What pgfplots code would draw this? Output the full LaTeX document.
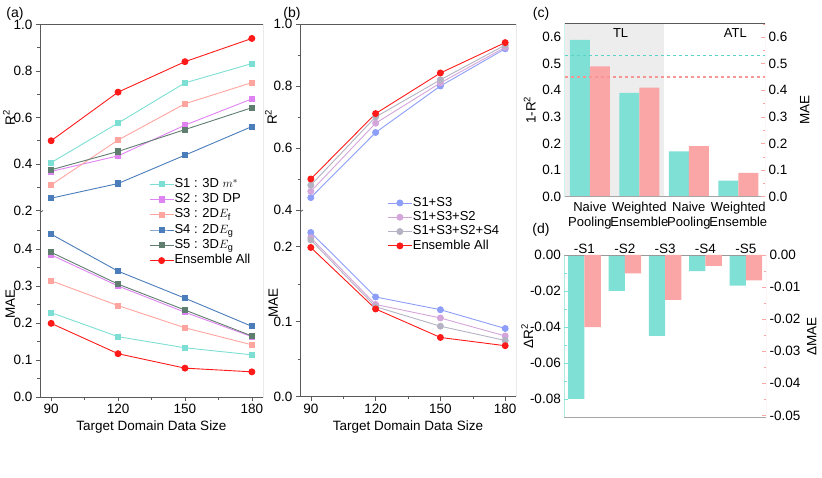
\documentclass[border=0pt]{standalone}
\usepackage{pgfplots}
\pgfplotsset{compat=1.18}
\usepackage{fontspec}
\setmainfont{Liberation Sans}
\definecolor{axgray}{HTML}{5A5A5A}
\definecolor{sone}{HTML}{7DDFD3}
\definecolor{stwo}{HTML}{E083F2}
\definecolor{sthree}{HTML}{FFA5A0}
\definecolor{sfour}{HTML}{4A7DBA}
\definecolor{sfive}{HTML}{5F7E70}
\definecolor{ens}{HTML}{FF1A1A}
\definecolor{bone}{HTML}{8C9EF7}
\definecolor{btwo}{HTML}{D4A5DA}
\definecolor{bthree}{HTML}{B3B3C3}
\definecolor{barc}{HTML}{7FE0D6}
\definecolor{barp}{HTML}{FBA6A6}
\definecolor{dashc}{HTML}{5CD3CA}
\definecolor{dashp}{HTML}{F79494}
\definecolor{shade}{HTML}{EDEDED}
\pgfplotsset{
  base/.style={scale only axis, anchor=south west,
    /pgf/number format/assume math mode=true,
    tick label style={font=\fontsize{13.5}{15}\selectfont},
    label style={font=\fontsize{13.5}{15}\selectfont},
    tick align=outside, tick style={axgray, line width=0.6pt},
    major tick length=4pt, minor tick length=2.5pt,
    axis line style={draw=none},
    yticklabel style={/pgf/number format/fixed, /pgf/number format/fixed zerofill, /pgf/number format/precision=1},
  },
  leg/.style={legend cell align=left,
    legend style={draw=none, fill=none, font=\fontsize{13}{15}\selectfont,
      nodes={inner sep=0.5pt, text height=9.5pt, text depth=3pt}},
    legend image code/.code={\draw[mark repeat=2,mark phase=2,##1] plot coordinates {(0pt,0pt) (12pt,0pt) (24pt,0pt)};}},
  sq/.style={line width=0.9pt, mark=square*, mark size=2.6pt, mark options={solid}},
  ci/.style={line width=0.9pt, mark=*, mark size=3pt, mark options={solid}},
}
\begin{document}
\begin{tikzpicture}
\path[use as bounding box] (0pt,0pt) rectangle (822pt,477pt);
% ---------------- (a) upper
\begin{axis}[base, leg, at={(40pt,266.5pt)}, width=223pt, height=186pt,
  xmin=85, xmax=185, ymin=0.2, ymax=1.0, xtick=\empty,
  ytick={0.2,0.4,0.6,0.8,1.0}, minor ytick={0.3,0.5,0.7,0.9}, ytick pos=left,
  ylabel={R\textsuperscript{2}}, ylabel shift=-8pt,
  legend style={at={(0.475,0.19)}, anchor=north west, row sep=1.8pt}]
\addplot[sq, sone] coordinates {(90,0.406) (120,0.576) (150,0.749) (180,0.832)};
\addlegendentry{S1 : 3D $m^{*}$}
\addplot[sq, stwo] coordinates {(90,0.368) (120,0.435) (150,0.567) (180,0.680)};
\addlegendentry{S2 : 3D DP}
\addplot[sq, sthree] coordinates {(90,0.310) (120,0.503) (150,0.659) (180,0.750)};
\addlegendentry{S3 : 2D$E_\mathrm{f}$}
\addplot[sq, sfour] coordinates {(90,0.253) (120,0.316) (150,0.438) (180,0.561)};
\addlegendentry{S4 : 2D$E_\mathrm{g}$}
\addplot[sq, sfive] coordinates {(90,0.375) (120,0.454) (150,0.548) (180,0.642)};
\addlegendentry{S5 : 3D$E_\mathrm{g}$}
\addplot[ci, ens] coordinates {(90,0.500) (120,0.709) (150,0.840) (180,0.940)};
\addlegendentry{Ensemble All}
\draw[axgray, line width=0.8pt] (rel axis cs:0,0) -- (rel axis cs:0,1) -- (rel axis cs:1,1) -- (rel axis cs:1,0);
\end{axis}
% ---------------- (a) lower
\begin{axis}[base, at={(40pt,80pt)}, width=223pt, height=186.5pt,
  xmin=85, xmax=185, ymin=0, ymax=0.504,
  xtick={90,120,150,180}, minor xtick={105,135,165}, xtick pos=bottom,
  ytick={0,0.1,0.2,0.3,0.4}, minor ytick={0.05,0.15,0.25,0.35,0.45}, ytick pos=left,
  ylabel={MAE}, ylabel shift=-8pt, xlabel={Target Domain Data Size}]
\addplot[sq, sone] coordinates {(90,0.228) (120,0.163) (150,0.133) (180,0.114)};
\addplot[sq, stwo] coordinates {(90,0.384) (120,0.300) (150,0.229) (180,0.163)};
\addplot[sq, sthree] coordinates {(90,0.314) (120,0.247) (150,0.187) (180,0.141)};
\addplot[sq, sfour] coordinates {(90,0.440) (120,0.340) (150,0.267) (180,0.191)};
\addplot[sq, sfive] coordinates {(90,0.391) (120,0.305) (150,0.235) (180,0.165)};
\addplot[ci, ens] coordinates {(90,0.199) (120,0.117) (150,0.078) (180,0.068)};
\draw[axgray, line width=0.8pt] (rel axis cs:0,1) -- (rel axis cs:0,0) -- (rel axis cs:1,0) -- (rel axis cs:1,1);
\draw[axgray, line width=0.7pt] ([xshift=-3pt,yshift=-4pt]rel axis cs:0,1) -- ++(6pt,4pt);
\draw[axgray, line width=0.7pt] ([xshift=-3pt,yshift=-1pt]rel axis cs:0,1) -- ++(6pt,4pt);
\end{axis}
% ---------------- (b) upper
\begin{axis}[base, leg, at={(300pt,267pt)}, width=216pt, height=186pt,
  xmin=85, xmax=185, ymin=0.4, ymax=1.0, xtick=\empty,
  ytick={0.4,0.6,0.8,1.0}, minor ytick={0.5,0.7,0.9}, ytick pos=left,
  ylabel={R\textsuperscript{2}}, ylabel shift=-10pt,
  legend style={at={(0.39,0.086)}, anchor=north west, row sep=0.8pt}]
\addplot[ci, bone] coordinates {(90,0.440) (120,0.650) (150,0.800) (180,0.920)};
\addlegendentry{S1+S3}
\addplot[ci, btwo] coordinates {(90,0.460) (120,0.680) (150,0.810) (180,0.925)};
\addlegendentry{S1+S3+S2}
\addplot[ci, bthree] coordinates {(90,0.480) (120,0.700) (150,0.820) (180,0.932)};
\addlegendentry{S1+S3+S2+S4}
\addplot[ci, ens] coordinates {(90,0.500) (120,0.711) (150,0.842) (180,0.940)};
\addlegendentry{Ensemble All}
\draw[axgray, line width=0.8pt] (rel axis cs:0,0) -- (rel axis cs:0,1) -- (rel axis cs:1,1) -- (rel axis cs:1,0);
\end{axis}
% ---------------- (b) lower
\begin{axis}[base, at={(300pt,80.3pt)}, width=216pt, height=186.7pt,
  xmin=85, xmax=185, ymin=0, ymax=0.249,
  xtick={90,120,150,180}, minor xtick={105,135,165}, xtick pos=bottom,
  ytick={0,0.1,0.2}, minor ytick={0.05,0.15}, ytick pos=left,
  ylabel={MAE}, ylabel shift=-11pt, xlabel={Target Domain Data Size}]
\addplot[ci, bone] coordinates {(90,0.219) (120,0.133) (150,0.116) (180,0.091)};
\addplot[ci, btwo] coordinates {(90,0.212) (120,0.123) (150,0.105) (180,0.081)};
\addplot[ci, bthree] coordinates {(90,0.209) (120,0.120) (150,0.094) (180,0.075)};
\addplot[ci, ens] coordinates {(90,0.199) (120,0.117) (150,0.079) (180,0.068)};
\draw[axgray, line width=0.8pt] (rel axis cs:0,1) -- (rel axis cs:0,0) -- (rel axis cs:1,0) -- (rel axis cs:1,1);
\draw[axgray, line width=0.7pt] ([xshift=-3pt,yshift=-4pt]rel axis cs:0,1) -- ++(6pt,4pt);
\draw[axgray, line width=0.7pt] ([xshift=-3pt,yshift=-1pt]rel axis cs:0,1) -- ++(6pt,4pt);
\end{axis}
% ---------------- (c) left
\begin{axis}[base, at={(564.7pt,280.3pt)}, width=200.3pt, height=173.4pt,
  xmin=-0.51, xmax=3.54, ymin=0, ymax=0.652,
  xtick={0,1,2,3}, xticklabels={Naive\\Pooling,Weighted\\Ensemble,Naive\\Pooling,Weighted\\Ensemble},
  xticklabel style={align=center, font=\fontsize{13}{15}\selectfont, inner sep=1pt, yshift=-4pt},
  major x tick style={draw=none}, xtick pos=bottom,
  ytick={0,0.1,0.2,0.3,0.4,0.5,0.6}, minor ytick={0.05,0.15,0.25,0.35,0.45,0.55,0.65},
  ytick pos=left, tick align=inside, y tick style={barc},
  ylabel={1-R\textsuperscript{2}}]
\addplot[draw=none, fill=shade, forget plot] coordinates {(-0.51,0.652) (1.5,0.652)} \closedcycle;
\addplot[ybar, bar width=20pt, bar shift=-10pt, fill=barc, draw=none] coordinates {(0,0.59) (1,0.39) (2,0.17) (3,0.06)};
\addplot[ybar, bar width=20pt, bar shift=10pt, fill=barp, draw=none] coordinates {(0,0.49) (1,0.41) (2,0.19) (3,0.09)};
\addplot[draw=dashc, dashed, line width=1.1pt] coordinates {(-0.51,0.53) (3.54,0.53)};
\addplot[draw=dashp, dashed, line width=1.1pt] coordinates {(-0.51,0.45) (3.54,0.45)};
\node[font=\fontsize{13}{15}\selectfont] at (axis cs:0.62,0.615) {TL};
\node[font=\fontsize{13}{15}\selectfont] at (axis cs:2.94,0.615) {ATL};
\draw[barc, line width=1pt] (rel axis cs:0,0) -- (rel axis cs:0,1);
\draw[axgray, line width=0.8pt] (rel axis cs:0,1) -- (rel axis cs:1,1);
\draw[gray!70, line width=0.8pt] (rel axis cs:0,0) -- (rel axis cs:1,0);
\end{axis}
% ---------------- (c) right
\begin{axis}[base, at={(564.7pt,280.3pt)}, width=200.3pt, height=173.4pt,
  xmin=-0.51, xmax=3.54, ymin=0, ymax=0.652, xtick=\empty,
  ytick={0,0.1,0.2,0.3,0.4,0.5,0.6}, minor ytick={0.05,0.15,0.25,0.35,0.45,0.55,0.65},
  ytick pos=right, yticklabel pos=right, ylabel near ticks, tick align=inside, y tick style={barp},
  ylabel={MAE}, ylabel style={font=\fontsize{13.5}{15}\selectfont}, ylabel shift=6pt]
\draw[barp, line width=1pt] (rel axis cs:1,0) -- (rel axis cs:1,1);
\end{axis}
% ---------------- (d) left
\begin{axis}[base, at={(564.3pt,59.7pt)}, width=201.7pt, height=162.3pt,
  xmin=-0.5, xmax=4.5, ymin=-0.0902, ymax=0,
  xtick={0,1,2,3,4}, xticklabels={-S1,-S2,-S3,-S4,-S5}, xticklabel pos=right,
  major x tick style={draw=none},
  xticklabel style={font=\fontsize{13.5}{15}\selectfont, inner sep=1pt},
  scaled y ticks=false,
  ytick={-0.08,-0.06,-0.04,-0.02,0}, minor ytick={-0.09,-0.07,-0.05,-0.03,-0.01},
  yticklabel style={/pgf/number format/precision=2},
  ytick pos=left, tick align=inside, y tick style={barc},
  ylabel={ΔR\textsuperscript{2}}, ylabel shift=-10pt]
\addplot[ybar, bar width=16.3pt, bar shift=-8.15pt, fill=barc, draw=none] coordinates {(0,-0.080) (1,-0.020) (2,-0.045) (3,-0.009) (4,-0.017)};
\draw[barc, line width=1pt] (rel axis cs:0,0) -- (rel axis cs:0,1);
\draw[gray!80, line width=0.8pt] (rel axis cs:0,1) -- (rel axis cs:1,1);
\draw[gray!70, line width=0.8pt] (rel axis cs:0,0) -- (rel axis cs:1,0);
\end{axis}
% ---------------- (d) right
\begin{axis}[base, at={(564.3pt,59.7pt)}, width=201.7pt, height=162.3pt,
  xmin=-0.5, xmax=4.5, ymin=-0.0506, ymax=0, xtick=\empty,
  scaled y ticks=false,
  ytick={-0.05,-0.04,-0.03,-0.02,-0.01,0}, minor ytick={-0.045,-0.035,-0.025,-0.015,-0.005},
  yticklabel style={/pgf/number format/precision=2},
  ytick pos=right, yticklabel pos=right, ylabel near ticks, tick align=inside, y tick style={barp},
  ylabel={ΔMAE}, ylabel style={font=\fontsize{13.5}{15}\selectfont}]
\addplot[ybar, bar width=16.3pt, bar shift=8.15pt, fill=barp, draw=none] coordinates {(0,-0.0225) (1,-0.0057) (2,-0.0140) (3,-0.0034) (4,-0.0079)};
\draw[barp, line width=1pt] (rel axis cs:1,0) -- (rel axis cs:1,1);
\end{axis}
% panel letters
\node[font=\fontsize{14}{16}\selectfont] at (15pt,463pt) {(a)};
\node[font=\fontsize{14}{16}\selectfont] at (292pt,463pt) {(b)};
\node[font=\fontsize{14}{16}\selectfont] at (541pt,463pt) {(c)};
\node[font=\fontsize{14}{16}\selectfont] at (541pt,247pt) {(d)};
\end{tikzpicture}
\end{document}
